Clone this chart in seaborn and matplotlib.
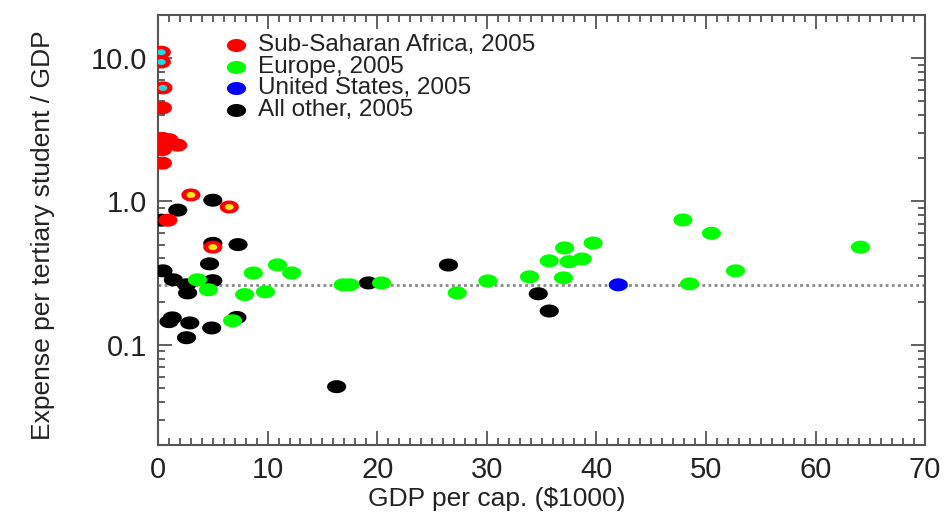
import numpy as np
import pandas as pd
import matplotlib
matplotlib.use("Agg")
import matplotlib.pyplot as plt
from matplotlib.path import Path
from matplotlib.ticker import MultipleLocator, FixedLocator, FixedFormatter, LogLocator, NullFormatter
import seaborn as sns

# GDP per capita ($1000) and expense per tertiary student relative to GDP, 2005
africa_gdp = [0.3, 0.3, 0.45, 0.4, 0.4, 1.0, 1.8, 0.4, 0.4, 3.0, 6.5, 0.9, 5.0]
africa_exp = [11.0, 9.4, 6.2, 4.5, 2.75, 2.7, 2.47, 2.3, 1.85, 1.11, 0.915, 0.74, 0.48]
# inner fill marking of the Sub-Saharan points ("" = plain)
africa_mark = ["c", "c", "c", "", "", "", "", "", "", "y", "y", "", "y"]

europe_gdp = [3.6, 4.6, 8.7, 10.9, 12.2, 7.9, 9.8, 6.8, 16.9, 17.5, 20.4, 27.3,
              30.1, 33.9, 35.7, 37.1, 37.5, 38.7, 39.7, 37.0, 47.9, 50.5, 52.7,
              48.5, 64.1]
europe_exp = [0.284, 0.242, 0.317, 0.361, 0.317, 0.224, 0.234, 0.147, 0.262,
              0.262, 0.27, 0.23, 0.279, 0.298, 0.385, 0.474, 0.38, 0.397, 0.513,
              0.293, 0.743, 0.60, 0.328, 0.266, 0.48]

us_gdp = [42.0]
us_exp = [0.262]

other_gdp = [5.0, 1.8, 0.3, 5.0, 7.3, 4.7, 0.45, 1.4, 2.6, 5.0, 2.7, 1.3, 1.0,
             2.9, 4.9, 2.6, 7.2, 16.3, 19.2, 26.5, 34.7, 35.7]
other_exp = [1.02, 0.87, 0.74, 0.51, 0.50, 0.367, 0.328, 0.284, 0.262, 0.28,
             0.23, 0.154, 0.145, 0.142, 0.131, 0.112, 0.155, 0.051, 0.27, 0.36,
             0.227, 0.172]

regions = ["All other, 2005", "Europe, 2005", "Sub-Saharan Africa, 2005",
           "United States, 2005"]
legend_order = ["Sub-Saharan Africa, 2005", "Europe, 2005",
                "United States, 2005", "All other, 2005"]
palette = {"Sub-Saharan Africa, 2005": "#ff0000", "Europe, 2005": "#00ff00",
           "United States, 2005": "#0000ff", "All other, 2005": "#000000"}

df = pd.concat([
    pd.DataFrame({"gdp": other_gdp, "exp": other_exp, "region": regions[0], "mark": ""}),
    pd.DataFrame({"gdp": europe_gdp, "exp": europe_exp, "region": regions[1], "mark": ""}),
    pd.DataFrame({"gdp": africa_gdp, "exp": africa_exp, "region": regions[2], "mark": africa_mark}),
    pd.DataFrame({"gdp": us_gdp, "exp": us_exp, "region": regions[3], "mark": ""}),
], ignore_index=True)

sns.set_style("ticks")
plt.rcParams["font.family"] = ["Liberation Sans", "DejaVu Sans"]

# flattened ellipse used as the plotting symbol
t = np.linspace(0, 2 * np.pi, 60)
ellipse = Path(np.column_stack([np.cos(t), 0.68 * np.sin(t)]), closed=True)

fig = plt.figure(figsize=(9.44, 5.12), dpi=100)
ax = fig.add_axes([0.1674, 0.131, 0.8126, 0.8397])

ax.axhline(us_exp[0], color="#888888", lw=2.0, ls=(0, (1, 1.2)), zorder=1)

sns.scatterplot(data=df, x="gdp", y="exp", hue="region", palette=palette,
                marker=ellipse, s=190, linewidth=0, edgecolor="none",
                legend=False, ax=ax, zorder=3)

inner = df[df["mark"] != ""]
sns.scatterplot(data=inner, x="gdp", y="exp", hue="mark",
                palette={"y": "#ffee00", "c": "#22d8e0"},
                marker=ellipse, s=40, linewidth=0, edgecolor="none",
                legend=False, ax=ax, zorder=4)

ax.set_yscale("log")
ax.set_xlim(0, 70)
ax.set_ylim(0.02, 20)

ax.xaxis.set_major_locator(MultipleLocator(10))
ax.xaxis.set_minor_locator(MultipleLocator(1))
ax.yaxis.set_major_locator(FixedLocator([0.1, 1.0, 10.0]))
ax.yaxis.set_major_formatter(FixedFormatter(["0.1", "1.0", "10.0"]))
ax.yaxis.set_minor_locator(LogLocator(base=10, subs=np.arange(2, 10)))
ax.yaxis.set_minor_formatter(NullFormatter())

axis_col = "#555555"
ax.tick_params(which="both", direction="in", top=True, right=True,
               color=axis_col, width=1.3)
ax.tick_params(which="major", length=10, labelsize=21, labelcolor="#222222", pad=8)
ax.tick_params(which="minor", length=5)
for sp in ax.spines.values():
    sp.set_visible(True)
    sp.set_color(axis_col)
    sp.set_linewidth(1.5)

ax.set_xlabel("GDP per cap. ($1000)", fontsize=19, color="#222222")
ax.set_ylabel("Expense per tertiary student / GDP", fontsize=19, color="#222222")
ax.xaxis.set_label_coords(0.442, -0.097)
ax.yaxis.set_label_coords(-0.134, 0.488)

# key in the upper left corner
key_y = [0.930, 0.879, 0.830, 0.779]
for name, yy in zip(legend_order, key_y):
    ax.scatter([0.1017], [yy], transform=ax.transAxes, marker=ellipse, s=190,
               color=palette[name], linewidths=0, zorder=5, clip_on=False)
    ax.text(0.1304, yy, name, transform=ax.transAxes, fontsize=17.5,
            color="#222222", va="center", ha="left")

fig.savefig("out.png", dpi=100)
